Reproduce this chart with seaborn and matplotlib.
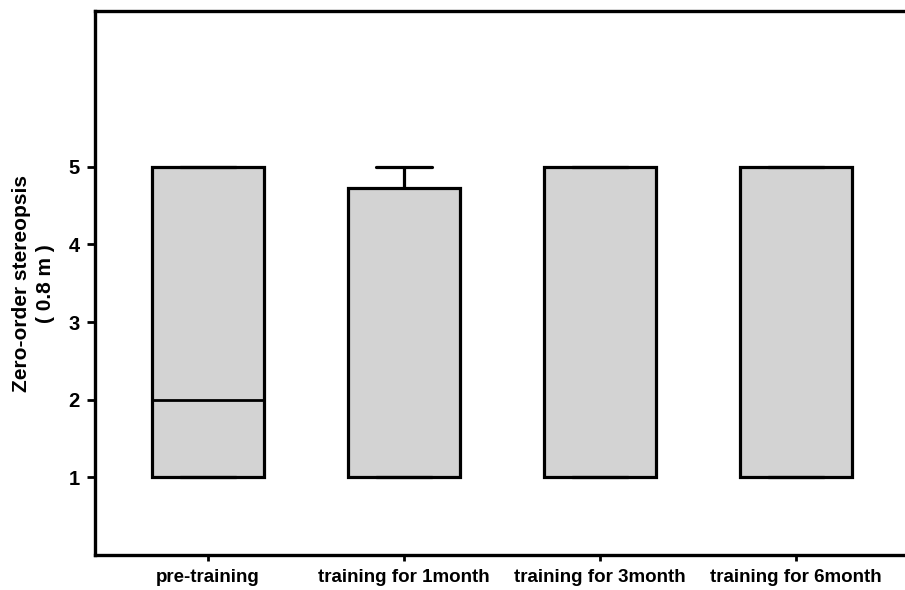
import pandas as pd
import matplotlib.pyplot as plt
import seaborn as sns

groups = ["pre-training", "training for 1month", "training for 3month", "training for 6month"]
pre_vals = [1, 1, 2, 5, 5]
m1_vals = [1, 1, 1, 4.73, 5]
m3_vals = [1, 1, 1, 5, 5]
m6_vals = [1, 1, 1, 5, 5]
yticks = [1, 2, 3, 4, 5]

rows = []
for g, vals in zip(groups, [pre_vals, m1_vals, m3_vals, m6_vals]):
    for v in vals:
        rows.append({"group": g, "grade": v})
df = pd.DataFrame(rows)

sns.set_theme(style="white")
plt.rcParams["font.family"] = ["Liberation Sans", "Noto Sans CJK SC", "DejaVu Sans"]
plt.rcParams["text.color"] = "black"
plt.rcParams["axes.labelcolor"] = "black"
plt.rcParams["xtick.color"] = "black"
plt.rcParams["ytick.color"] = "black"

fig = plt.figure(figsize=(9.05, 5.9), dpi=100)
ax = fig.add_axes([0.105, 0.059, 0.92, 0.922])

sns.boxplot(data=df, x="group", y="grade", order=groups, ax=ax,
            width=0.57, color="#d3d3d3", saturation=1, whis=1.5,
            linecolor="black", linewidth=2.3, showfliers=False,
            medianprops={"color": "black", "linewidth": 2},
            whiskerprops={"color": "black", "linewidth": 2.3},
            capprops={"color": "black", "linewidth": 2.3})

ax.set_ylim(0, 7)
ax.set_xlim(-0.577, 3.673)
ax.set_yticks(yticks)
ax.set_yticklabels([str(t) for t in yticks], fontsize=14.5, fontweight="bold")
ax.set_xticks(range(len(groups)))
ax.set_xticklabels(groups, fontsize=13.5, fontweight="bold")
ax.set_xlabel("")
ax.set_ylabel("Zero-order stereopsis\n( 0.8 m )", fontsize=15, fontweight="bold",
              labelpad=10, linespacing=1.3)

for side in ["left", "bottom", "top"]:
    ax.spines[side].set_visible(True)
    ax.spines[side].set_color("black")
    ax.spines[side].set_linewidth(2.4)
ax.spines["right"].set_visible(False)
ax.tick_params(axis="y", direction="out", length=6, width=2, left=True, pad=5)
ax.tick_params(axis="x", direction="out", length=4, width=2, bottom=True, pad=6)

plt.savefig("out.png", dpi=100)
